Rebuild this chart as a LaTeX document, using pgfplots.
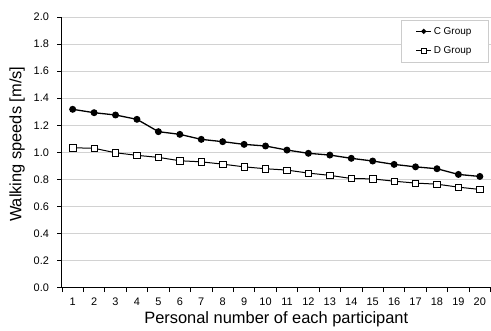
\documentclass[border=0pt]{standalone}
\usepackage{pgfplots}
\pgfplotsset{compat=1.18}
\usepackage{fontspec}
\setmainfont{Liberation Sans}
\begin{document}
\begin{tikzpicture}
\begin{axis}[
  scale only axis,
  width=429bp, height=271bp,
  xmin=0.5, xmax=20.5, ymin=0, ymax=2.0,
  axis x line=bottom, axis y line=left,
  axis line style={line width=0.9bp, -},
  xtick={0.5,1.5,...,20.5},
  x tick label as interval,
  xticklabels={1,2,3,4,5,6,7,8,9,10,11,12,13,14,15,16,17,18,19,20},
  ytick={0,0.2,...,2.0},
  yticklabel style={/pgf/number format/fixed,/pgf/number format/fixed zerofill,/pgf/number format/precision=1, xshift=-5bp},
  xticklabel style={yshift=-2.5bp},
  /pgf/number format/assume math mode=true,
  tick align=outside,
  major tick length=4.5bp,
  tick style={black, line width=0.8bp},
  ymajorgrids, grid style={gray!35, line width=0.8bp},
  ticklabel style={font=\fontsize{11}{13}\selectfont},
  xlabel={Personal number of each participant},
  ylabel={Walking speeds [m/s]},
  label style={font=\fontsize{16.5}{18}\selectfont},
  xlabel style={yshift=1bp},
  ylabel style={at={(ticklabel cs:0.53)}, yshift=2bp},
  legend style={at={(rel axis cs:1,1)}, anchor=north east, xshift=-2bp, yshift=-3bp,
    draw=gray!40, font=\fontsize{10}{12}\selectfont, inner xsep=15bp, inner ysep=5bp,
    row sep=7bp, legend cell align=left},
  legend image code/.code={\draw[mark repeat=2,mark phase=2, every mark/.append style={scale=0.65}] plot coordinates {(0cm,0cm) (0.26cm,0cm) (0.52cm,0cm)};},
  clip=false,
]
\addplot[black, line width=1.3bp, mark=*, mark size=2.8bp, mark options={fill=black}] coordinates {
(1,1.318) (2,1.293) (3,1.276) (4,1.244) (5,1.153) (6,1.133) (7,1.096) (8,1.079) (9,1.059) (10,1.047)
(11,1.017) (12,0.993) (13,0.980) (14,0.956) (15,0.936) (16,0.911) (17,0.893) (18,0.879) (19,0.837) (20,0.822)};
\addlegendentry{C Group}
\addplot[black, line width=1.0bp, mark=square*, mark size=3.2bp, mark options={fill=white, line width=0.6bp}] coordinates {
(1,1.034) (2,1.030) (3,0.997) (4,0.978) (5,0.963) (6,0.938) (7,0.930) (8,0.913) (9,0.893) (10,0.879)
(11,0.869) (12,0.847) (13,0.830) (14,0.807) (15,0.804) (16,0.787) (17,0.773) (18,0.765) (19,0.743) (20,0.726)};
\addlegendentry{D Group}
\end{axis}
\path ([xshift=-62bp,yshift=-43bp]current axis.south west) rectangle ([yshift=17bp]current axis.north east);
\end{tikzpicture}
\end{document}
